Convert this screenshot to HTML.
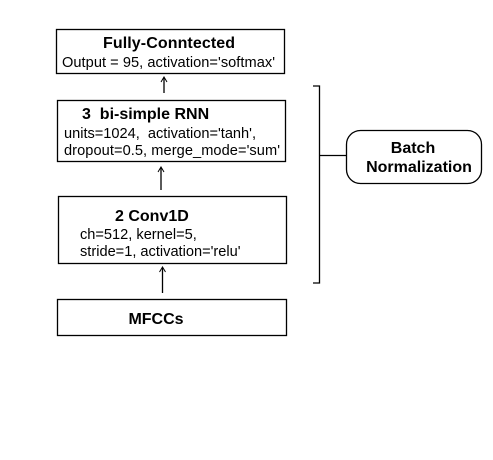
<!DOCTYPE html>
<html><head><meta charset="utf-8"><style>
html,body{margin:0;padding:0;background:#fff;}
svg{display:block}
text{font-family:"Liberation Sans",Arial,sans-serif;fill:#000;white-space:pre}
.b{font-weight:bold;font-size:16px}
.r{font-size:14.6px}
</style></head><body>
<svg width="493" height="460" viewBox="0 0 493 460" xmlns="http://www.w3.org/2000/svg">
<g fill="none" stroke="#000" stroke-width="1.3">
<rect x="56.5" y="29.5" width="228" height="44"/>
<rect x="57.5" y="100.5" width="228" height="61"/>
<rect x="58.5" y="196.5" width="228" height="67"/>
<rect x="57.5" y="299.5" width="229" height="36"/>
<line x1="164" y1="78" x2="164" y2="93"/>
<line x1="161" y1="168" x2="161" y2="190"/>
<line x1="162.5" y1="268" x2="162.5" y2="293"/>
<polyline points="313,86 319.5,86 319.5,283 313,283"/>
<line x1="319.5" y1="155.5" x2="347" y2="155.5"/>
<rect x="346.5" y="130.5" width="135" height="53" rx="14" ry="14"/>
</g>
<g fill="none" stroke="#000" stroke-width="1">
<polyline points="161,82 164,77 167,82"/>
<polyline points="158,172 161,167 164,172"/>
<polyline points="159.5,272 162.5,267 165.5,272"/>
</g>
<text class="b" x="169" y="48" text-anchor="middle" textLength="132">Fully-Conntected</text>
<text class="r" x="62" y="67" textLength="213">Output = 95, activation='softmax'</text>
<text class="b" x="82" y="119">3&#160; bi-simple RNN</text>
<text class="r" x="64" y="138" textLength="192">units=1024,&#160; activation='tanh',</text>
<text class="r" x="64" y="155" textLength="216">dropout=0.5, merge_mode='sum'</text>
<text class="b" x="115" y="221">2 Conv1D</text>
<text class="r" x="80" y="239">ch=512, kernel=5,</text>
<text class="r" x="80" y="256">stride=1, activation='relu'</text>
<text class="b" x="156" y="324" text-anchor="middle">MFCCs</text>
<text class="b" x="413" y="153" text-anchor="middle">Batch</text>
<text class="b" x="419" y="172" text-anchor="middle">Normalization</text>
</svg>
</body></html>
